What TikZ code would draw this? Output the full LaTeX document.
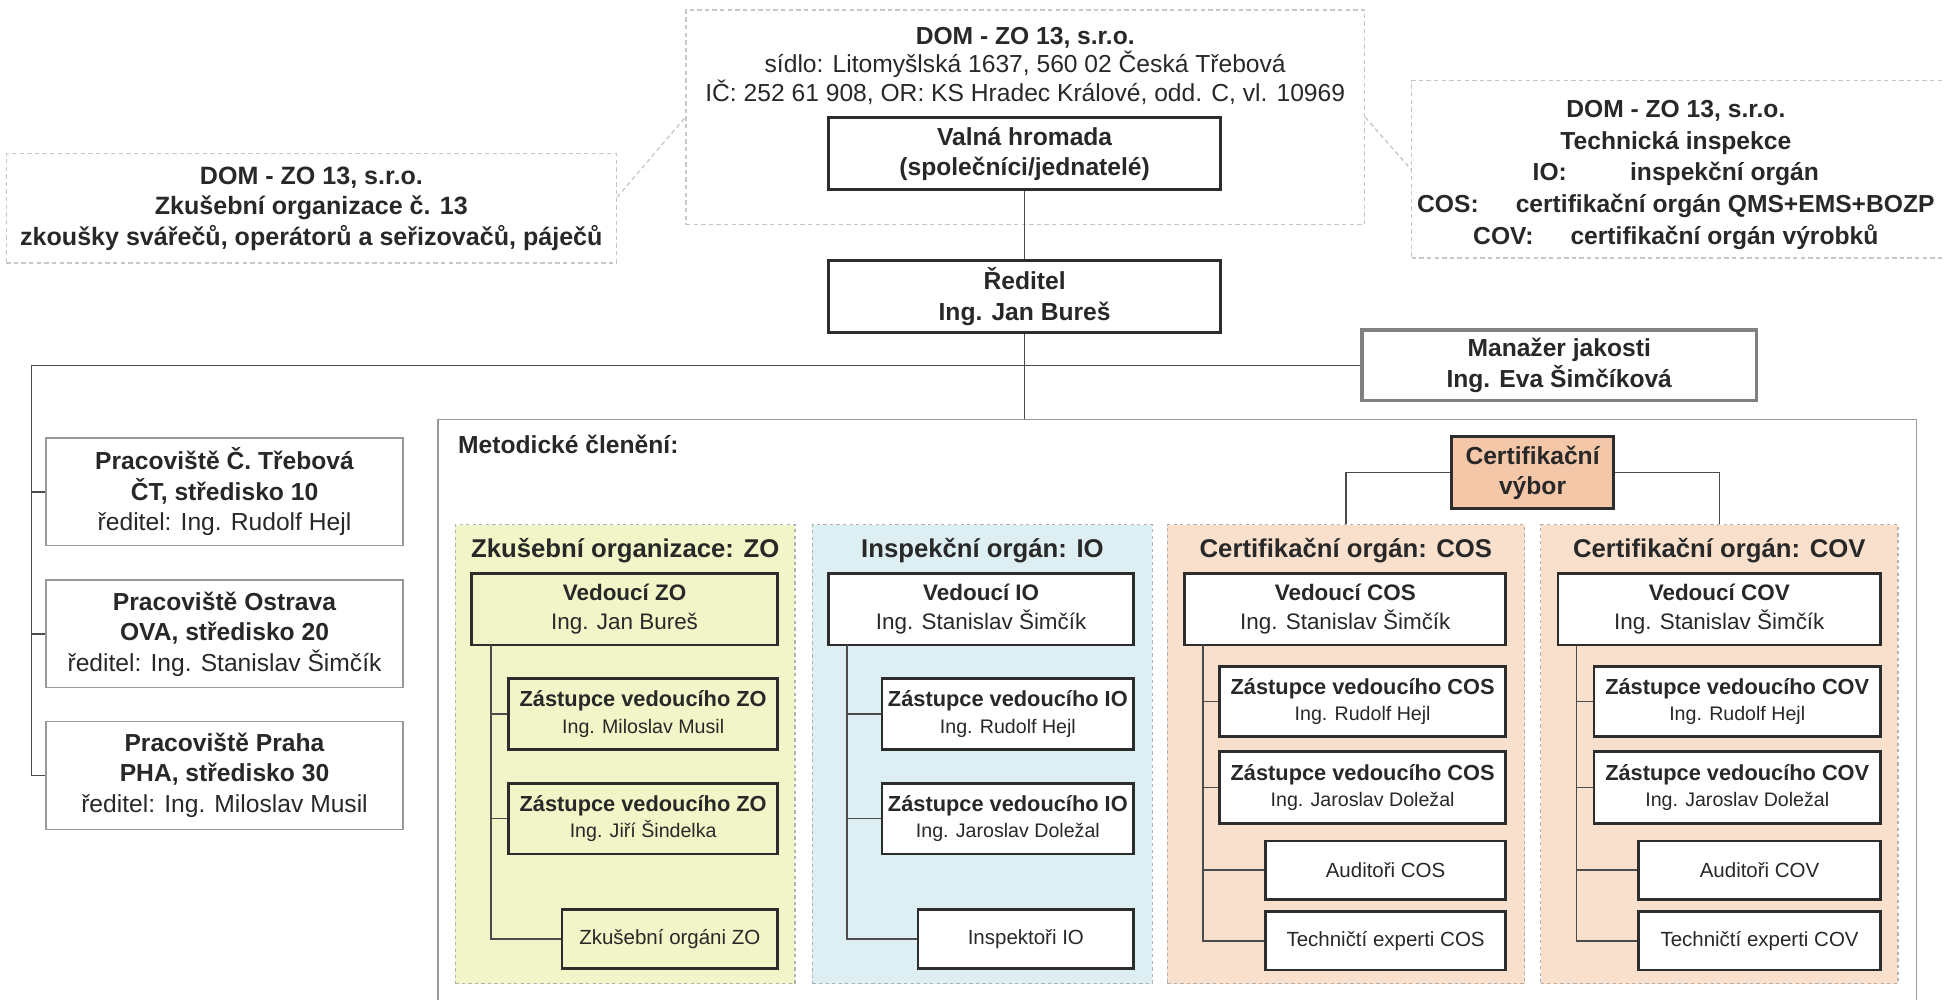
\documentclass[tikz,border=0pt]{standalone}
\usepackage{fontspec}
\setmainfont{Liberation Sans}

\definecolor{ink}{RGB}{40,40,40}
\definecolor{edge}{RGB}{45,45,45}
\definecolor{zofill}{RGB}{241,245,199}
\definecolor{iofill}{RGB}{222,239,243}
\definecolor{cofill}{RGB}{249,224,205}
\definecolor{vyborfill}{RGB}{245,199,169}

\begin{document}
\begin{tikzpicture}[x=0.02cm, y=-0.02cm,
    every node/.style={inner sep=0pt, align=center, text=ink, font=\fontsize{11.3}{14}\selectfont},
    wh/.style 2 args={minimum width=#1*0.02cm, minimum height=#2*0.02cm},
    boss/.style={draw=edge, line width=1.3pt, fill=white, font=\fontsize{11.3}{14}\selectfont\bfseries},
    unit/.style={draw=edge, line width=1.3pt},
    site/.style={draw=black!40, line width=0.6pt},
    dotbox/.style={draw=black!22, line width=0.6pt, dash pattern=on 2pt off 1.5pt},
    panel/.style={draw=black!30, line width=0.6pt, dash pattern=on 1.5pt off 1.5pt},
    conn/.style={draw=black!70, line width=0.7pt},
    lead/.style={font=\fontsize{10.3}{13}\selectfont},
    deputy/.style={font=\fontsize{9}{12.2}\selectfont},
    small/.style={font=\fontsize{9.4}{12}\selectfont},
    title/.style={font=\fontsize{11.8}{14}\selectfont\bfseries}]

\useasboundingbox (0,0) rectangle (1568,806);

% company header boxes
\node[dotbox, wh={547}{173}] (dom) at (826.5,94.5) {};
\node[font=\fontsize{11.3}{13.1}\selectfont] (domtxt) at (826.5,53)
    {\textbf{DOM - ZO 13, s.r.o.}\\sídlo: Litomyšlská 1637, 560 02 Česká Třebová\\IČ: 252 61 908, OR: KS Hradec Králové, odd. C, vl. 10969};
\node[dotbox, wh={492}{88}, font=\fontsize{11.5}{14}\selectfont\bfseries] (zkus) at (251,168)
    {DOM - ZO 13, s.r.o.\\Zkušební organizace č. 13\\zkoušky svářečů, operátorů a seřizovačů, páječů};
\node[dotbox, wh={462}{143}] (tibox) at (1369,136.5) {};
\node[font=\fontsize{11.3}{14.5}\selectfont\bfseries] (titxt) at (1351,141)
    {DOM - ZO 13, s.r.o.\\Technická inspekce\\IO:\hspace{29pt}inspekční orgán\\COS:\hspace{17pt}certifikační orgán QMS+EMS+BOZP\\COV:\hspace{17pt}certifikační orgán výrobků};
\draw[dotbox] ([yshift=0.18cm]zkus.east) -- (dom.west);
\draw[dotbox] (dom.east) -- (tibox.west);

% management
\node[boss, wh={316}{58}] (valna) at (826,124) {Valná hromada\\(společníci/jednatelé)};
\node[boss, wh={316}{58}] (reditel) at (826,239) {Ředitel\\Ing. Jan Bureš};
\node[draw=black!50, line width=1.5pt, fill=white, wh={318}{57}, font=\fontsize{11.3}{14}\selectfont\bfseries] (manazer) at (1257,294.5)
    {Manažer jakosti\\Ing. Eva Šimčíková};

% sites
\node[site, wh={288}{87}] (praco1) at (181,396.5) {\textbf{Pracoviště Č. Třebová}\\\textbf{ČT, středisko 10}\\ředitel: Ing. Rudolf Hejl};
\node[site, wh={288}{87}] (praco2) at (181,511) {\textbf{Pracoviště Ostrava}\\\textbf{OVA, středisko 20}\\ředitel: Ing. Stanislav Šimčík};
\node[site, wh={288}{87}] (praco3) at (181,625) {\textbf{Pracoviště Praha}\\\textbf{PHA, středisko 30}\\ředitel: Ing. Miloslav Musil};

% methodical frame
\node[site, wh={1192}{502}] (frame) at (949,589) {};
\node[anchor=west, font=\fontsize{11.3}{14}\selectfont\bfseries] (metod) at (369,358) {Metodické členění:};

\coordinate (bus) at (25.5,294.5);
\draw[conn] (valna) -- (reditel);
\draw[conn] (reditel.south) -- (reditel.south |- frame.north);
\draw[conn] (manazer.west) -- (bus) |- (praco3.west);
\draw[conn] (praco1.west) -- (praco1.west -| bus);
\draw[conn] (praco2.west) -- (praco2.west -| bus);

% panels
\node[panel, fill=zofill, wh={274}{370}] (zo) at (504,608) {};
\node[panel, fill=iofill, wh={274}{370}] (io) at (792,608) {};
\node[panel, fill=cofill, wh={288}{370}] (cos) at (1085,608) {};
\node[panel, fill=cofill, wh={288}{370}] (cov) at (1386,608) {};
\node[title] (zotitle) at (504,444) {Zkušební organizace: ZO};
\node[title] (iotitle) at (792,444) {Inspekční orgán: IO};
\node[title] (costitle) at (1085,444) {Certifikační orgán: COS};
\node[title] (covtitle) at (1386,444) {Certifikační orgán: COV};

\node[unit, fill=vyborfill, wh={131}{58}, font=\fontsize{11.3}{14}\selectfont\bfseries] (vybor) at (1235.5,381) {Certifikační\\výbor};
\draw[conn] (vybor.west) -| (cos.north);
\draw[conn] (vybor.east) -| (cov.north);

% ZO
\node[unit, lead, wh={247}{58}] (zolead) at (503.5,491) {\textbf{Vedoucí ZO}\\Ing. Jan Bureš};
\node[unit, deputy, wh={217}{57}] (zodep1) at (518.5,575.5) {{\fontsize{10}{12.2}\selectfont\bfseries Zástupce vedoucího ZO}\\Ing. Miloslav Musil};
\node[unit, deputy, wh={217}{57}] (zodep2) at (518.5,660) {{\fontsize{10}{12.2}\selectfont\bfseries Zástupce vedoucího ZO}\\Ing. Jiří Šindelka};
\node[unit, small, wh={174}{48}] (zoexam) at (540,757) {Zkušební orgáni ZO};
\coordinate (zostem) at (396,520);
\draw[conn] (zostem) |- (zoexam.west);
\draw[conn] (zodep1.west) -- (zodep1.west -| zostem);
\draw[conn] (zodep2.west) -- (zodep2.west -| zostem);

% IO
\node[unit, fill=white, lead, wh={246}{58}] (iolead) at (791,491) {\textbf{Vedoucí IO}\\Ing. Stanislav Šimčík};
\node[unit, fill=white, deputy, wh={203}{57}] (iodep1) at (812.5,575.5) {{\fontsize{10}{12.2}\selectfont\bfseries Zástupce vedoucího IO}\\Ing. Rudolf Hejl};
\node[unit, fill=white, deputy, wh={203}{57}] (iodep2) at (812.5,660) {{\fontsize{10}{12.2}\selectfont\bfseries Zástupce vedoucího IO}\\Ing. Jaroslav Doležal};
\node[unit, fill=white, small, wh={174}{48}] (ioinsp) at (827,757) {Inspektoři IO};
\coordinate (iostem) at (683,520);
\draw[conn] (iostem) |- (ioinsp.west);
\draw[conn] (iodep1.west) -- (iodep1.west -| iostem);
\draw[conn] (iodep2.west) -- (iodep2.west -| iostem);

% COS
\node[unit, fill=white, lead, wh={259}{58}] (coslead) at (1084.5,491) {\textbf{Vedoucí COS}\\Ing. Stanislav Šimčík};
\node[unit, fill=white, deputy, wh={231}{57}] (cosdep1) at (1098.5,565.5) {{\fontsize{10}{12.2}\selectfont\bfseries Zástupce vedoucího COS}\\Ing. Rudolf Hejl};
\node[unit, fill=white, deputy, wh={231}{58}] (cosdep2) at (1098.5,635) {{\fontsize{10}{12.2}\selectfont\bfseries Zástupce vedoucího COS}\\Ing. Jaroslav Doležal};
\node[unit, fill=white, small, wh={194}{47}] (cosaud) at (1117,701.5) {Auditoři COS};
\node[unit, fill=white, small, wh={194}{47}] (costech) at (1117,758.5) {Techničtí experti COS};
\coordinate (cosstem) at (970,520);
\draw[conn] (cosstem) |- (costech.west);
\draw[conn] (cosdep1.west) -- (cosdep1.west -| cosstem);
\draw[conn] (cosdep2.west) -- (cosdep2.west -| cosstem);
\draw[conn] (cosaud.west) -- (cosaud.west -| cosstem);

% COV
\node[unit, fill=white, lead, wh={260}{58}] (covlead) at (1386,491) {\textbf{Vedoucí COV}\\Ing. Stanislav Šimčík};
\node[unit, fill=white, deputy, wh={231}{57}] (covdep1) at (1400.5,565.5) {{\fontsize{10}{12.2}\selectfont\bfseries Zástupce vedoucího COV}\\Ing. Rudolf Hejl};
\node[unit, fill=white, deputy, wh={231}{58}] (covdep2) at (1400.5,635) {{\fontsize{10}{12.2}\selectfont\bfseries Zástupce vedoucího COV}\\Ing. Jaroslav Doležal};
\node[unit, fill=white, small, wh={195}{47}] (covaud) at (1418.5,701.5) {Auditoři COV};
\node[unit, fill=white, small, wh={195}{47}] (covtech) at (1418.5,758.5) {Techničtí experti COV};
\coordinate (covstem) at (1271,520);
\draw[conn] (covstem) |- (covtech.west);
\draw[conn] (covdep1.west) -- (covdep1.west -| covstem);
\draw[conn] (covdep2.west) -- (covdep2.west -| covstem);
\draw[conn] (covaud.west) -- (covaud.west -| covstem);
\end{tikzpicture}
\end{document}
